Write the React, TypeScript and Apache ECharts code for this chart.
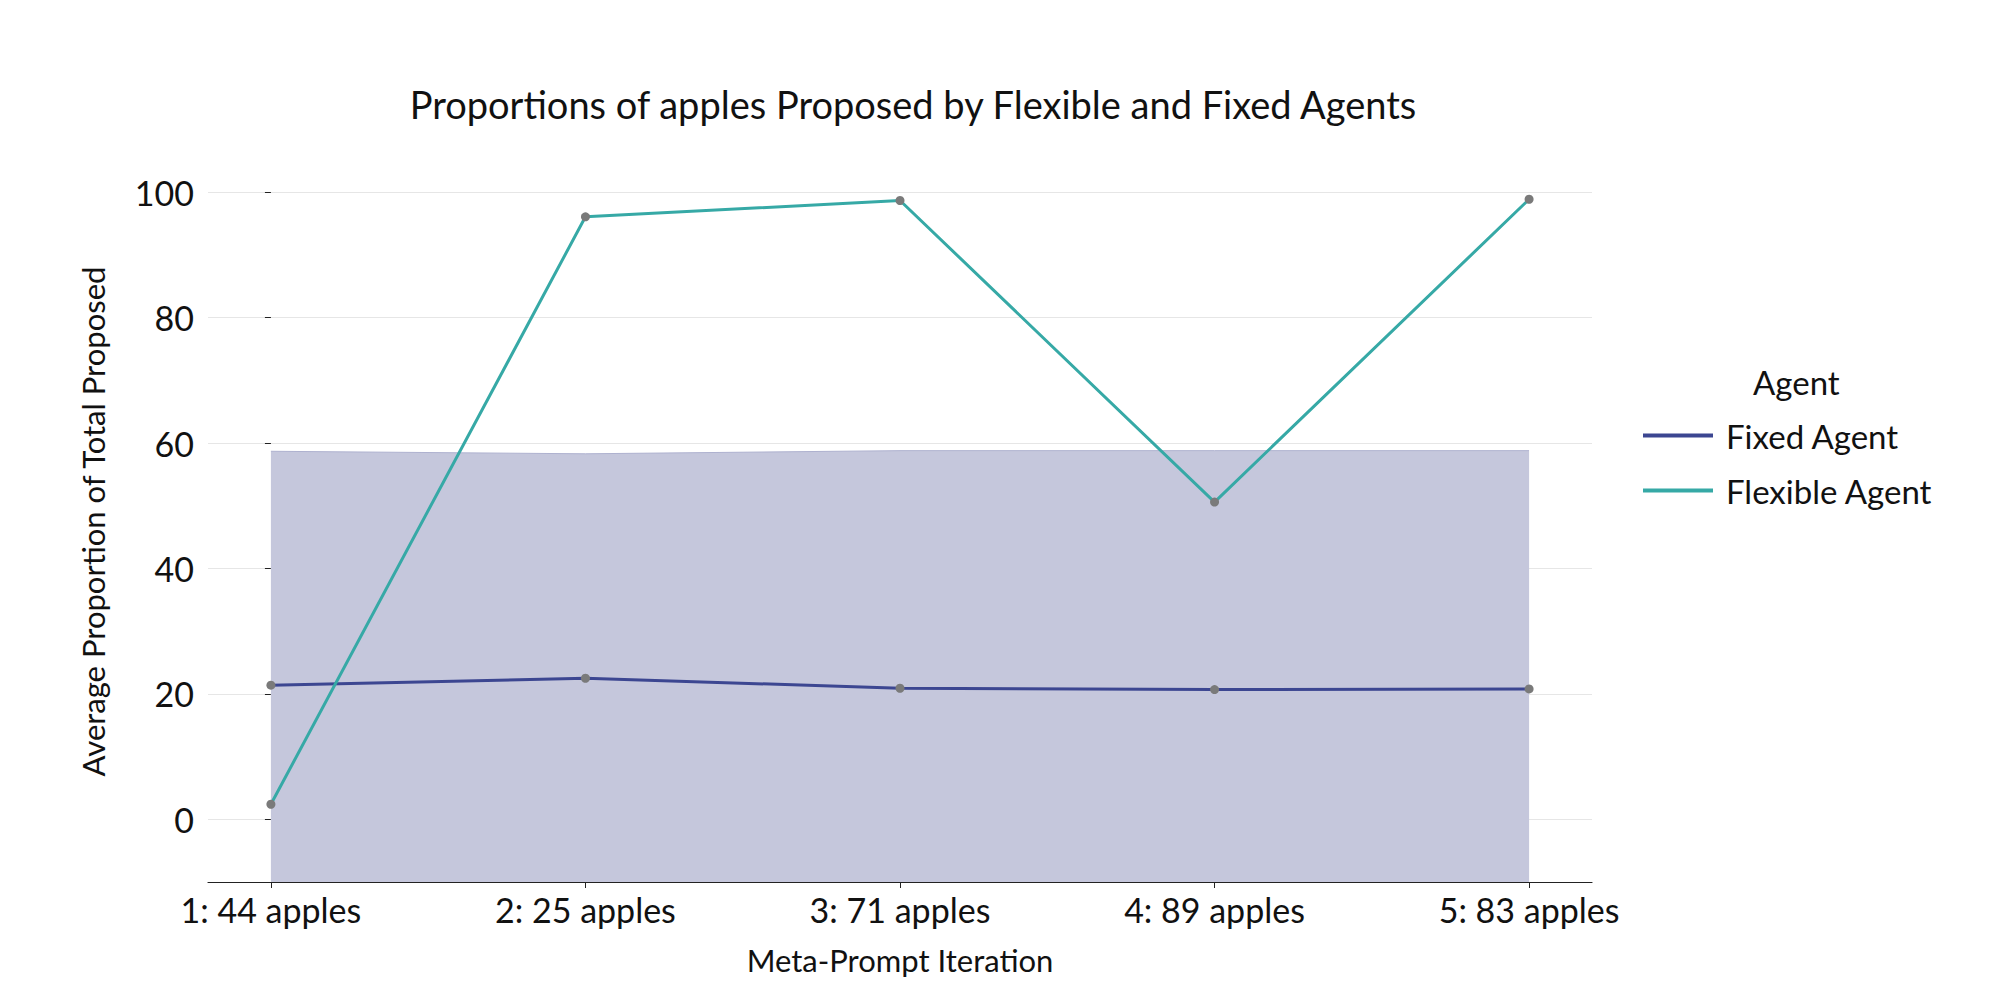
import { useEffect, useRef } from "react";
import * as echarts from "echarts";

const categories = ["1: 44 apples", "2: 25 apples", "3: 71 apples", "4: 89 apples", "5: 83 apples"];
const fixedAgent = [21.4, 22.5, 20.9, 20.7, 20.8];
const flexibleAgent = [2.4, 96.1, 98.7, 50.6, 98.9];
const fixedBandHigh = [58.7, 58.3, 58.8, 58.8, 58.8];
const yTicks = [0, 20, 40, 60, 80, 100];
const xTicks = [0, 1, 2, 3, 4];

const font = "Lato, 'Open Sans', sans-serif";
const fixedColor = "#3c4691";
const flexColor = "#36a9a6";

const App = () => {
  const chartRef = useRef(null);

  useEffect(() => {
    if (!chartRef.current) return;
    const chart = echarts.init(chartRef.current, null, { renderer: "svg" });
    const pts = (arr: number[]) => arr.map((v, i) => [i, v]);
    chart.setOption({
      animation: false,
      title: {
        text: "Proportions of apples Proposed by Flexible and Fixed Agents",
        left: 900,
        textAlign: "center",
        top: 72,
        textStyle: { fontFamily: font, fontSize: 38, fontWeight: "normal", color: "#111" },
      },
      graphic: [
        {
          type: "text",
          left: 1745,
          top: 357,
          style: { text: "Agent", fontFamily: font, fontSize: 33, fill: "#111" },
        },
      ],
      legend: {
        orient: "vertical",
        left: 1630,
        top: 406,
        itemWidth: 70,
        itemHeight: 4,
        itemGap: 22,
        icon: "rect",
        data: [
          { name: "Fixed Agent", itemStyle: { color: fixedColor } },
          { name: "Flexible Agent", itemStyle: { color: flexColor } },
        ],
        textStyle: { fontFamily: font, fontSize: 33, color: "#111", padding: [0, 0, 0, 8] },
      },
      grid: { left: 200, right: 400, top: 153, bottom: 110 },
      xAxis: {
        type: "value",
        min: -0.2,
        max: 4.2,
        scale: true,
        name: "Meta-Prompt Iteration",
        nameLocation: "middle",
        nameGap: 62,
        nameTextStyle: { fontFamily: font, fontSize: 31, color: "#111" },
        axisLine: { show: true, onZero: false, lineStyle: { color: "#222", width: 1.2 } },
        axisTick: { show: true, customValues: xTicks, length: 6, lineStyle: { color: "#222" } },
        axisLabel: {
          customValues: xTicks,
          formatter: (v: number) => categories[Math.round(v)] ?? "",
          fontFamily: font,
          fontSize: 34,
          color: "#111",
          margin: 10,
        },
        splitLine: { show: false },
      },
      yAxis: {
        type: "value",
        min: -10,
        max: 105,
        name: "Average Proportion of Total Proposed",
        nameLocation: "middle",
        nameGap: 100,
        nameTextStyle: { fontFamily: font, fontSize: 31, color: "#111" },
        axisLine: { show: false },
        axisTick: { show: true, customValues: yTicks, length: 6, lineStyle: { color: "#222" } },
        axisLabel: { customValues: yTicks, fontFamily: font, fontSize: 34, color: "#111", margin: 14 },
        splitLine: { show: true, lineStyle: { color: "#e6e6e6", width: 1 } },
      },
      series: [
        {
          name: "band",
          type: "line",
          data: pts(fixedBandHigh),
          symbol: "none",
          lineStyle: { color: "#aeb1cf", width: 1 },
          areaStyle: { color: "#c5c7dc", opacity: 1, origin: "start" },
          silent: true,
          z: 1,
        },
        {
          name: "Fixed Agent",
          type: "line",
          data: pts(fixedAgent),
          lineStyle: { width: 3, color: fixedColor },
          symbol: "circle",
          symbolSize: 9,
          itemStyle: { color: "#7a7a7a" },
          z: 3,
        },
        {
          name: "Flexible Agent",
          type: "line",
          data: pts(flexibleAgent),
          lineStyle: { width: 3, color: flexColor },
          symbol: "circle",
          symbolSize: 9,
          itemStyle: { color: "#7a7a7a" },
          z: 3,
        },
      ],
    });
    return () => chart.dispose();
  }, []);

  return <div ref={chartRef} style={{ width: 1984, height: 984 }} />;
};

export default App;
